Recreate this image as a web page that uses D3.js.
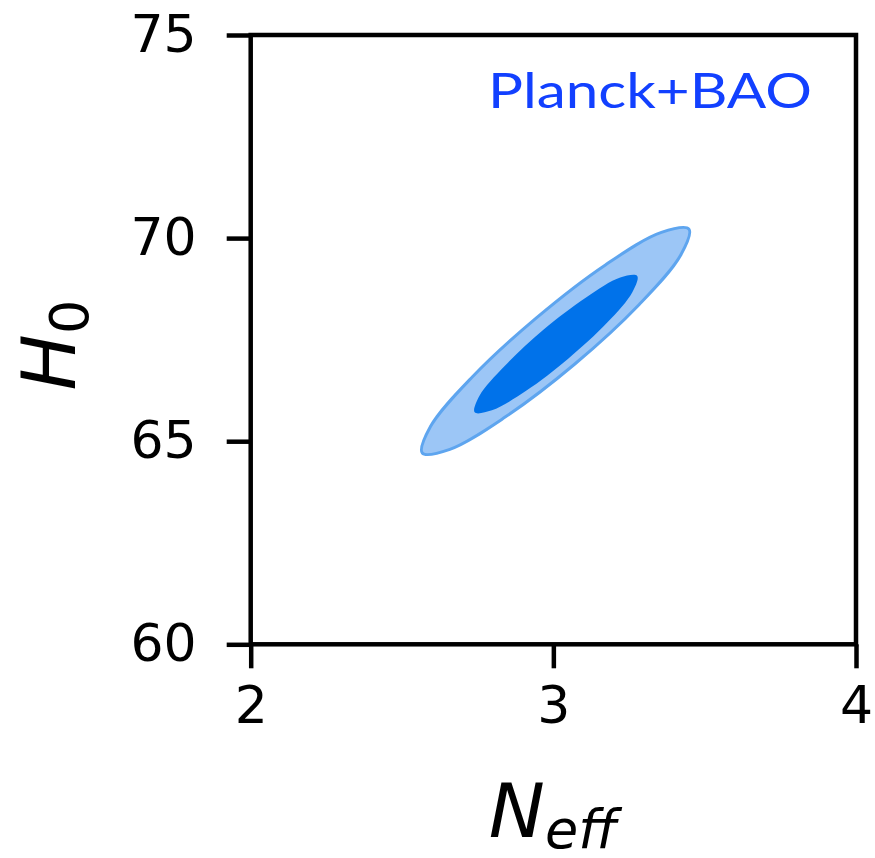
<!DOCTYPE html>
<html>
<head>
<meta charset="utf-8">
<script src="https://cdn.jsdelivr.net/npm/d3@7"></script>
<style>
  body { margin: 0; background: #fff; }
  svg { display: block; }
</style>
</head>
<body>
<svg id="chart" width="875" height="858"></svg>
<script>
// contour outlines, [N_eff, H0]
const outerContour = [
    [3.448, 70.22], [3.420, 69.57], [3.283, 68.36], [3.071, 66.90],
    [2.842, 65.60], [2.658, 64.80], [2.567, 64.71], [2.594, 65.36],
    [2.732, 66.58], [2.943, 68.03], [3.172, 69.34], [3.357, 70.14]
]
const innerContour = [
    [3.277, 69.07], [3.261, 68.67], [3.178, 67.92], [3.049, 67.03],
    [2.910, 66.24], [2.797, 65.76], [2.740, 65.71], [2.756, 66.12],
    [2.840, 66.86], [2.968, 67.75], [3.108, 68.54], [3.221, 69.03]
]
const xTicks = [2, 3, 4]
const yTicks = [60, 65, 70, 75]
const xDomain = [2, 4]
const yDomain = [60, 75]
const legendLabel = 'Planck+BAO'

const svg = d3.select('#chart')

const x = d3.scaleLinear().domain(xDomain).range([250.7, 856])
const y = d3.scaleLinear().domain(yDomain).range([644.3, 35])

const lw = 4.5

/// contours ////////
const line = d3.line()
    .x(d => x(d[0]))
    .y(d => y(d[1]))
    .curve(d3.curveCatmullRomClosed)

svg.append('path')
    .attr('d', line(outerContour))
    .attr('fill', '#9cc6f6')
    .attr('stroke', '#5ea5ef')
    .attr('stroke-width', 3)

svg.append('path')
    .attr('d', line(innerContour))
    .attr('fill', '#0072ea')

/// axes ////////
const xAxis = d3.axisBottom(x)
    .tickValues(xTicks)
    .tickFormat(d3.format('d'))
    .tickSizeInner(24)
    .tickSizeOuter(0)
    .tickPadding(18)

const yAxis = d3.axisLeft(y)
    .tickValues(yTicks)
    .tickFormat(d3.format('d'))
    .tickSizeInner(24)
    .tickSizeOuter(0)
    .tickPadding(30)

const gx = svg.append('g')
    .attr('transform', `translate(0,${y(60)})`)
    .call(xAxis)

const gy = svg.append('g')
    .attr('transform', `translate(${x(2)},0)`)
    .call(yAxis)

;[gx, gy].forEach(g => {
    g.select('.domain').remove()
    g.selectAll('line').attr('stroke', '#000').attr('stroke-width', lw)
    g.selectAll('text')
        .attr('fill', '#000')
        .style('font-family', '"DejaVu Sans", sans-serif')
        .style('font-size', '52px')
})

// spines
svg.append('rect')
    .attr('x', x(2))
    .attr('y', y(75))
    .attr('width', x(4) - x(2))
    .attr('height', y(60) - y(75))
    .attr('fill', 'none')
    .attr('stroke', '#000')
    .attr('stroke-width', lw)

/// labels ////////
const xLabel = svg.append('text')
    .attr('x', 553)
    .attr('y', 837)
    .attr('text-anchor', 'middle')
    .style('font-family', '"DejaVu Sans", sans-serif')
    .style('font-size', '75px')
    .style('font-style', 'italic')
xLabel.append('tspan').text('N')
xLabel.append('tspan').attr('dy', 11).style('font-size', '54px').text('eff')

const yLabel = svg.append('text')
    .attr('transform', 'translate(75,345) rotate(-90)')
    .attr('text-anchor', 'middle')
    .style('font-family', '"DejaVu Sans", sans-serif')
    .style('font-size', '75px')
yLabel.append('tspan').style('font-style', 'italic').text('H')
yLabel.append('tspan').attr('dy', 13).style('font-size', '54px').text('0')

svg.append('text')
    .attr('x', 812)
    .attr('y', 108)
    .attr('text-anchor', 'end')
    .attr('fill', '#1240ff')
    .attr('textLength', 324)
    .attr('lengthAdjust', 'spacingAndGlyphs')
    .style('font-family', 'Lato, sans-serif')
    .style('font-size', '49px')
    .text(legendLabel)
</script>
</body>
</html>
